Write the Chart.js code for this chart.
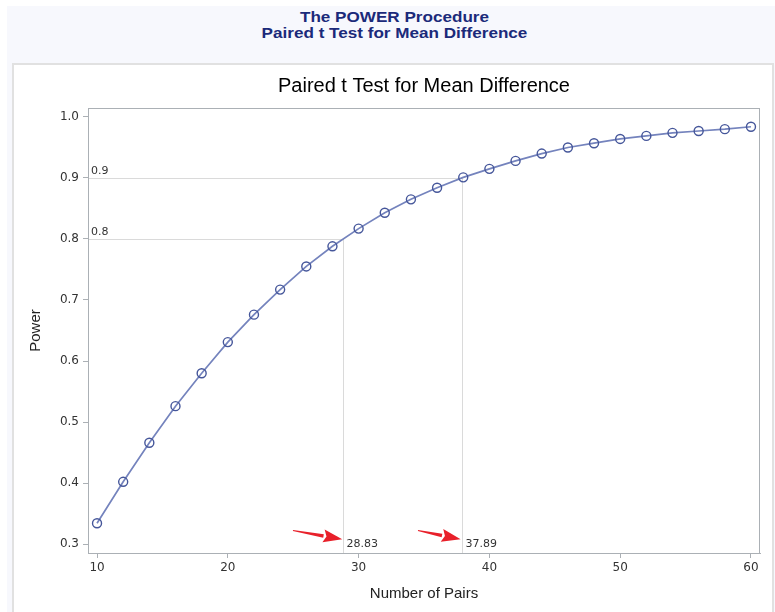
<!DOCTYPE html>
<html>
<head>
<meta charset="utf-8">
<script src="https://cdn.jsdelivr.net/npm/chart.js@4"></script>
<style>
  body { margin: 0; background: #fff; width: 775px; height: 612px; overflow: hidden; position: relative; }
  #panel { position: absolute; left: 7px; top: 6px; width: 768px; height: 606px; background: #f7f8fd; }
  .hd { position: absolute; left: 7px; width: 775px; text-align: center; font: bold 15px "Liberation Sans", Arial, sans-serif;
        color: #1b2a7a; line-height: 16px; transform: scaleX(1.14); }
  #box { position: absolute; left: 12px; top: 63px; width: 758px; height: 549px; background: #fff;
         border: 2px solid #e1e1e1; border-bottom: none; }
  #box canvas { position: absolute; left: 0; top: 0; }
</style>
</head>
<body>
<div id="panel"></div>
<div class="hd" style="top:9px">The POWER Procedure</div>
<div class="hd" style="top:25px">Paired t Test for Mean Difference</div>
<div id="box"><canvas id="powerChart" width="758" height="547"></canvas></div>
<script>
// 標本サイズ（ペア数）と検出力
const N_PAIRS = [10, 12, 14, 16, 18, 20, 22, 24, 26, 28, 30, 32, 34, 36, 38, 40, 42, 44, 46, 48, 50, 52, 54, 56, 58, 60];
const POWER = [0.334, 0.402, 0.466, 0.526, 0.580, 0.631, 0.676, 0.717, 0.755, 0.788, 0.817, 0.843, 0.865, 0.884, 0.901,
               0.915, 0.928, 0.940, 0.950, 0.957, 0.964, 0.969, 0.974, 0.977, 0.980, 0.984];

// 参照線：目標検出力と必要ペア数
const REF_POWER = [0.8, 0.9];
const REF_N = [28.83, 37.89];

// 赤い矢印（データ座標）
const ARROW_FROM = [[24.98, 0.322], [34.54, 0.322]];
const ARROW_TO = [[28.75, 0.308], [37.80, 0.308]];

const X_TICKS = [10, 20, 30, 40, 50, 60];
const Y_TICKS = [0.3, 0.4, 0.5, 0.6, 0.7, 0.8, 0.9, 1.0];

const AXIS_COLOR = '#abb0b5';
const TICK_FONT = { family: '"DejaVu Sans", sans-serif', size: 12 };

const refLines = {
    id: 'refLines',
    beforeDatasetsDraw(chart) {
        const { ctx, chartArea, scales: { x, y } } = chart;
        ctx.save();
        // 枠
        ctx.strokeStyle = AXIS_COLOR;
        ctx.lineWidth = 1;
        ctx.strokeRect(chartArea.left + 0.5, chartArea.top + 0.5, chartArea.width - 1, chartArea.height);

        ctx.strokeStyle = '#dadada';
        ctx.fillStyle = '#333';
        ctx.font = '11px "DejaVu Sans", sans-serif';
        REF_POWER.forEach((p, i) => {
            const py = Math.round(y.getPixelForValue(p)) + 0.5;
            const px = Math.round(x.getPixelForValue(REF_N[i])) + 0.5;
            ctx.beginPath();
            ctx.moveTo(chartArea.left + 1, py);
            ctx.lineTo(px, py);
            ctx.moveTo(px, py);
            ctx.lineTo(px, chartArea.bottom);
            ctx.stroke();

            ctx.textAlign = 'left';
            ctx.textBaseline = 'bottom';
            ctx.fillText(p.toFixed(1), chartArea.left + 3, py - 2);
            ctx.textBaseline = 'middle';
            ctx.fillText(REF_N[i].toFixed(2), px + 3, chartArea.bottom - 9);
        });
        ctx.restore();
    },
    afterDraw(chart) {
        const { ctx, scales: { x, y } } = chart;
        ctx.save();
        ctx.fillStyle = '#e8202a';
        ARROW_FROM.forEach((f, i) => {
            const x0 = x.getPixelForValue(f[0]), y0 = y.getPixelForValue(f[1]);
            const x1 = x.getPixelForValue(ARROW_TO[i][0]), y1 = y.getPixelForValue(ARROW_TO[i][1]);
            const ang = Math.atan2(y1 - y0, x1 - x0);
            const sin = Math.sin(ang), cos = Math.cos(ang);
            const headLen = 19, headW = 6.5;
            const bx = x1 - headLen * cos, by = y1 - headLen * sin;
            // 軸（先細り）
            ctx.beginPath();
            ctx.moveTo(x0 + 0.5 * sin, y0 - 0.5 * cos);
            ctx.lineTo(bx + 1.8 * sin, by - 1.8 * cos);
            ctx.lineTo(bx - 1.8 * sin, by + 1.8 * cos);
            ctx.lineTo(x0 - 0.5 * sin, y0 + 0.5 * cos);
            ctx.closePath();
            ctx.fill();
            // 矢じり
            ctx.beginPath();
            ctx.moveTo(x1, y1);
            ctx.lineTo(bx + headW * sin, by - headW * cos);
            ctx.lineTo(bx + 3 * cos, by + 3 * sin);
            ctx.lineTo(bx - headW * sin, by + headW * cos);
            ctx.closePath();
            ctx.fill();
        });
        ctx.restore();
    }
};

const ctx = document.getElementById('powerChart').getContext('2d');
new Chart(ctx, {
    type: 'line',
    data: {
        datasets: [{
            data: N_PAIRS.map((n, i) => ({ x: n, y: POWER[i] })),
            borderColor: '#7483bd',
            borderWidth: 1.7,
            tension: 0,
            fill: false,
            pointStyle: 'circle',
            pointRadius: 4.5,
            pointBorderWidth: 1.4,
            pointBorderColor: '#45569a',
            pointBackgroundColor: 'rgba(0,0,0,0)'
        }]
    },
    options: {
        responsive: false,
        animation: false,
        devicePixelRatio: 1,
        layout: { padding: { left: 0, right: 12, top: 0, bottom: 0 } },
        plugins: {
            legend: { display: false },
            tooltip: { enabled: false },
            title: {
                display: true,
                fullSize: false,
                text: 'Paired t Test for Mean Difference',
                color: '#000',
                font: { family: '"Liberation Sans", Arial, sans-serif', size: 20, weight: 'normal', lineHeight: 1.2 },
                padding: { top: 9, bottom: 10 }
            }
        },
        scales: {
            x: {
                type: 'linear',
                min: 9.31,
                max: 60.69,
                afterBuildTicks: s => { s.ticks = X_TICKS.map(v => ({ value: v })); },
                afterFit: s => { s.height = 59; },
                grid: { display: true, drawOnChartArea: false, drawTicks: true, tickLength: 5, color: AXIS_COLOR },
                border: { display: true, color: AXIS_COLOR },
                ticks: { color: '#333', font: TICK_FONT, padding: 3, maxRotation: 0 },
                title: {
                    display: true,
                    text: 'Number of Pairs',
                    color: '#222',
                    font: { family: '"Liberation Sans", Arial, sans-serif', size: 15, lineHeight: 1.2 },
                    padding: { top: 0, bottom: 9 }
                }
            },
            y: {
                type: 'linear',
                min: 0.2853,
                max: 1.0147,
                afterBuildTicks: s => { s.ticks = Y_TICKS.map(v => ({ value: v })); },
                afterFit: s => { s.width = 74; },
                grid: { display: true, drawOnChartArea: false, drawTicks: true, tickLength: 5, color: AXIS_COLOR },
                border: { display: true, color: AXIS_COLOR },
                ticks: { color: '#333', font: TICK_FONT, padding: 4, callback: v => v.toFixed(1) },
                title: {
                    display: true,
                    text: 'Power',
                    color: '#222',
                    font: { family: '"Liberation Sans", Arial, sans-serif', size: 15, lineHeight: 1.2 },
                    padding: { top: 13, bottom: 0 }
                }
            }
        }
    },
    plugins: [refLines]
});
</script>
</body>
</html>
